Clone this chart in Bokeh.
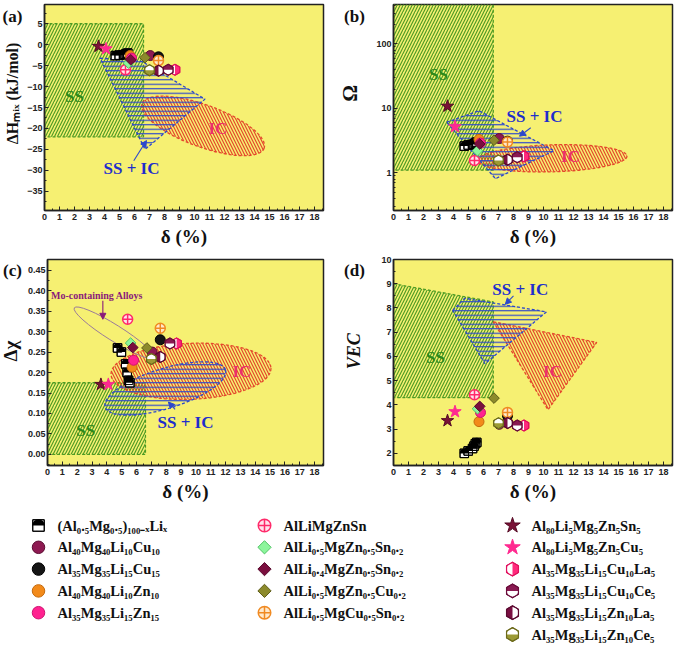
import numpy as np
from bokeh.plotting import figure
from bokeh.layouts import column, row
from bokeh.models import (Range1d, SingleIntervalTicker, PrintfTickFormatter, Label,
                          Arrow, NormalHead)
from bokeh.embed import file_html
from bokeh.resources import INLINE
from bokeh.core.properties import value

# ---------------- data ----------------
labels = [
    "(Al₀.₅Mg₀.₅)₁₀₀₋ₓLiₓ", "Al₄₀Mg₄₀Li₁₀Cu₁₀", "Al₃₅Mg₃₅Li₁₅Cu₁₅", "Al₄₀Mg₄₀Li₁₀Zn₁₀", "Al₃₅Mg₃₅Li₁₅Zn₁₅",
    "AlLiMgZnSn", "AlLi₀.₅MgZn₀.₅Sn₀.₂", "AlLi₀.₄MgZn₀.₅Sn₀.₂", "AlLi₀.₅MgZn₀.₅Cu₀.₂", "AlLi₀.₅MgCu₀.₅Sn₀.₂",
    "Al₈₀Li₅Mg₅Zn₅Sn₅", "Al₈₀Li₅Mg₅Zn₅Cu₅", "Al₃₅Mg₃₅Li₁₅Cu₁₀La₅", "Al₃₅Mg₃₅Li₁₅Cu₁₀Ce₅",
    "Al₃₅Mg₃₅Li₁₅Zn₁₀La₅", "Al₃₅Mg₃₅Li₁₅Zn₁₀Ce₅",
]
panel_tags = ["(a)", "(b)", "(c)", "(d)"]
y_titles = ["ΔHₘᵢₓ (kJ/mol)", "Ω", "Δχ", "VEC"]

# series 0: (Al0.5Mg0.5)100-xLix
sq_delta = [4.72, 4.98, 5.27, 5.37, 5.46, 5.55]
sq_dH = [-2.6, -2.5, -2.4, -2.3, -2.2, -2.0]
sq_omega = [2.6, 2.7, 2.75, 2.8, 2.9, 3.0]
sq_dchi = [0.260, 0.250, 0.221, 0.200, 0.181, 0.175]
sq_vec = [2.0, 2.1, 2.2, 2.3, 2.4, 2.45]

# series 1..15: one alloy each (same order as labels[1:])
pt_delta = [7.05, 7.6, 5.7, 5.8, 5.4, 5.6, 5.75, 6.7, 7.6, 3.6, 4.1, 8.7, 8.25, 7.6, 7.0]
pt_dH = [-2.6, -2.9, -2.6, -3.2, -6.0, -4.4, -3.6, -3.1, -3.8, -0.4, -1.0, -6.0, -6.0, -6.2, -6.1]
pt_omega = [3.4, 3.1, 3.3, 2.9, 1.55, 2.2, 2.8, 3.2, 3.0, 10.8, 5.2, 1.8, 1.75, 1.6, 1.55]
pt_dchi = [0.250, 0.280, 0.213, 0.230, 0.330, 0.272, 0.261, 0.260, 0.308, 0.171, 0.171, 0.271, 0.271, 0.238, 0.233]
pt_vec = [3.20, 3.55, 3.31, 3.69, 4.42, 3.84, 3.94, 4.28, 3.69, 3.35, 3.72, 3.15, 3.15, 3.25, 3.24]

# phase-region outlines (delta, value)
a_ss = (0, 6.6, -22, 5)
a_mix_x = [3.7, 6.5, 10.7, 6.7]
a_mix_y = [-3.2, -4.0, -13.0, -25.0]
a_ic = (10.57, -19.4)
b_ss = (0, 6.65, 1.1, 5000)
b_mix_x = [3.55, 5.7, 10.7, 6.8]
b_mix_y = [6.1, 9.2, 2.2, 0.81]
b_ic = (10.6, 1.68)
c_ss = (0, 6.6, 0.0, 0.175)
c_mix = (7.94, 0.161)
c_ic = (9.67, 0.203)
c_mo = (4.49, 0.297)
d_ss_x = [0, 6.65, 6.65, 0]
d_ss_y = [9.0, 8.25, 4.3, 4.3]
d_mix_x = [3.95, 4.75, 10.2, 6.1]
d_mix_y = [7.9, 8.4, 7.84, 5.7]
d_ic_x = [6.65, 13.55, 10.3]
d_ic_y = [7.43, 6.58, 3.8]

# ---------------- styles ----------------
BG = "#f6f072"
GREEN = "#4f9c24"
BLUE = "#2c48cc"
RED = "#e4482c"
T_GREEN = "#2f8a1a"
T_BLUE = "#1e2ecc"
T_RED = "#ec2f6b"
SERIF = "Liberation Serif"
SANS = "Liberation Sans"

styles = [
    ("circle", "#8e1a52", "#5c0c32", None),
    ("circle", "#151515", "#000000", None),
    ("circle", "#f28a1a", "#c56a0c", None),
    ("circle", "#ff2290", "#d01070", None),
    ("circle_cross", "#ffe3ec", "#ff2a6a", None),
    ("diamond", "#8cf59c", "#52c466", None),
    ("diamond", "#7a0f3e", "#5a0a2e", None),
    ("diamond", "#8c8a2c", "#5e5c18", None),
    ("circle_cross", "#ffe9cc", "#f08a22", None),
    ("star", "#7a1236", "#560a24", None),
    ("star", "#ff2a90", "#ff2a90", None),
    ("hex", "#ff2a7c", "#e0105e", "left"),
    ("hex", "#8a1a52", "#6a0c3a", "bottom"),
    ("hex", "#7a1042", "#5a0a30", "right"),
    ("hex", "#9c9a34", "#6c6a1c", "top"),
]
HALF = {"left": (np.pi / 2, 3 * np.pi / 2), "right": (-np.pi / 2, np.pi / 2),
        "top": (0, np.pi), "bottom": (np.pi, 2 * np.pi)}
BASE = {"circle": 10, "circle_cross": 10, "diamond": 7.5, "star": 13, "hex": 11}


def draw_squares(p, xs, ys, scale=1.0):
    s = 8.5 * scale
    p.scatter(xs, ys, marker="square", size=s, fill_color="white", line_color="black", line_width=1)
    p.wedge(xs, ys, radius=s * 0.55, radius_units="screen", start_angle=0, end_angle=np.pi,
            fill_color="black", line_color=None)
    p.scatter(xs, ys, marker="square", size=s, fill_color=None, line_color="black", line_width=1)


def draw_marker(p, xs, ys, st, scale=1.0):
    kind, fill, line, half = st
    s = BASE[kind] * scale
    if kind == "diamond":
        p.scatter(xs, ys, marker="square", angle=np.pi / 4, size=s, fill_color=fill,
                  line_color=line, line_width=1)
    elif kind == "hex":
        p.scatter(xs, ys, marker="hex", angle=np.pi / 6, size=s, fill_color=fill,
                  line_color=line, line_width=1)
        if half:
            a0, a1 = HALF[half]
            p.wedge(xs, ys, radius=s * 0.42, radius_units="screen", start_angle=a0, end_angle=a1,
                    fill_color="white", line_color=None)
            p.scatter(xs, ys, marker="hex", angle=np.pi / 6, size=s, fill_color=None,
                      line_color=line, line_width=1.2)
    elif kind == "circle_cross":
        p.scatter(xs, ys, marker="circle_cross", size=s, fill_color=fill, line_color=line,
                  line_width=1.5)
    else:
        p.scatter(xs, ys, marker=kind, size=s, fill_color=fill, line_color=line, line_width=1)


def draw_data(p, sq_y, pt_y):
    draw_squares(p, sq_delta, sq_y)
    for i, st in enumerate(styles):
        draw_marker(p, [pt_delta[i]], [pt_y[i]], st)


def make_panel(yr, width, height, bl, br, bt, bb, ylog=False, y_interval=None, yfmt=None):
    p = figure(width=width, height=height, x_range=Range1d(0, 18.6), y_range=Range1d(*yr),
               y_axis_type="log" if ylog else "linear", output_backend="svg",
               toolbar_location=None, min_border_left=bl, min_border_right=br,
               min_border_top=bt, min_border_bottom=bb)
    p.background_fill_color = BG
    p.border_fill_color = "white"
    p.outline_line_color = "#222"
    p.outline_line_width = 1.5
    p.xgrid.visible = False
    p.ygrid.visible = False
    p.xaxis.ticker = SingleIntervalTicker(interval=1, num_minor_ticks=2)
    if y_interval:
        p.yaxis.ticker = SingleIntervalTicker(interval=y_interval, num_minor_ticks=2)
    if yfmt:
        p.yaxis.formatter = PrintfTickFormatter(format=yfmt)
    for ax in (p.xaxis[0], p.yaxis[0]):
        ax.major_tick_in = 4
        ax.major_tick_out = 0
        ax.minor_tick_in = 2
        ax.minor_tick_out = 0
        ax.major_tick_line_color = "#222"
        ax.minor_tick_line_color = "#222"
        ax.axis_line_color = "#222"
        ax.axis_line_width = 1.5
        ax.major_label_text_font = SANS
        ax.major_label_text_font_style = "bold"
        ax.major_label_text_font_size = "9px"
        ax.major_label_text_color = "#222"
        ax.axis_label_text_font = SERIF
        ax.axis_label_text_color = "#111"
    p.xaxis.major_label_standoff = 3
    p.yaxis.major_label_standoff = 2
    p.xaxis.axis_label = "δ (%)"
    p.xaxis.axis_label_text_font_size = "19px"
    p.xaxis.axis_label_text_font_style = "bold"
    p.xaxis.axis_label_standoff = 3
    return p


def side_fig(width, height, tag, tag_xy, title, title_xy, title_size, title_style="bold"):
    """Narrow strip left of a panel holding the panel tag and the rotated y-axis title."""
    f = figure(width=width, height=height, x_range=Range1d(0, width), y_range=Range1d(height, 0),
               output_backend="svg", toolbar_location=None, x_axis_location=None,
               y_axis_location=None, min_border=0)
    f.outline_line_color = None
    f.grid.visible = False
    f.background_fill_color = "white"
    f.border_fill_color = "white"
    f.text(x=[tag_xy[0]], y=[tag_xy[1]], text=[tag], text_font=value(SERIF),
           text_font_style="bold", text_font_size="17px", text_color="#111",
           text_align="center", text_baseline="middle")
    f.text(x=[title_xy[0]], y=[title_xy[1]], text=[title], angle=np.pi / 2,
           text_font=value(SERIF), text_font_style=title_style, text_font_size=title_size,
           text_color="#111", text_align="center", text_baseline="middle")
    return f


def region_text(p, x, y, text, color, size="17px"):
    p.add_layout(Label(x=x, y=y, text=text, text_font=SERIF, text_font_style="bold",
                       text_font_size=size, text_color=color, text_align="center",
                       text_baseline="middle"))


def arrow(p, x0, y0, x1, y1, color=BLUE):
    p.add_layout(Arrow(end=NormalHead(size=6, fill_color=color, line_color=color),
                       x_start=x0, y_start=y0, x_end=x1, y_end=y1,
                       line_color=color, line_width=1.1))


HATCH = dict(fill_color=None, hatch_weight=1.2, line_width=1.3, line_dash="3 2")
H1, H2 = 249, 255          # row heights
FRAME_H = 207

# ---------------- panel (a) ----------------
pa = make_panel((-39.6, 9.6), 309, H1, 20, 10, 4, 38, y_interval=5)
pa.quad(left=a_ss[0], right=a_ss[1], bottom=a_ss[2], top=a_ss[3], hatch_pattern="/",
        hatch_color=GREEN, hatch_scale=6, line_color=GREEN, **HATCH)
pa.ellipse(x=[a_ic[0]], y=[a_ic[1]], width=130, height=42, width_units="screen",
           height_units="screen", angle=-0.35, hatch_pattern="\\", hatch_color=RED,
           hatch_scale=6, line_color=RED, **HATCH)
pa.patch(a_mix_x, a_mix_y, hatch_pattern="-", hatch_color=BLUE, hatch_scale=4.5,
         line_color=BLUE, **HATCH)
draw_data(pa, sq_dH, pt_dH)
region_text(pa, 2.0, -12.3, "SS", T_GREEN)
region_text(pa, 11.56, -20.1, "IC", T_RED)
region_text(pa, 5.8, -29.5, "SS + IC", T_BLUE)
arrow(pa, 5.95, -27.7, 6.8, -22.9)
sa = side_fig(24, H1, panel_tags[0], (12, 4 + 10), y_titles[0], (12, 4 + FRAME_H / 2), "16px")

# ---------------- panel (b) ----------------
pb = make_panel((0.26, 410), 309, H1, 26, 4, 4, 38, ylog=True, yfmt="%g")
pb.quad(left=b_ss[0], right=b_ss[1], bottom=b_ss[2], top=b_ss[3], hatch_pattern="/",
        hatch_color=GREEN, hatch_scale=6, line_color=GREEN, **HATCH)
pb.ellipse(x=[b_ic[0]], y=[b_ic[1]], width=149, height=27, width_units="screen",
           height_units="screen", angle=0.03, hatch_pattern="\\", hatch_color=RED,
           hatch_scale=6, line_color=RED, **HATCH)
pb.patch(b_mix_x, b_mix_y, hatch_pattern="-", hatch_color=BLUE, hatch_scale=4.5,
         line_color=BLUE, **HATCH)
draw_data(pb, sq_omega, pt_omega)
region_text(pb, 3.0, 33, "SS", T_GREEN)
region_text(pb, 11.8, 1.8, "IC", T_RED)
region_text(pb, 9.4, 7.5, "SS + IC", T_BLUE)
arrow(pb, 9.15, 5.0, 8.4, 3.7)
sb = side_fig(34, H1, panel_tags[1], (21, 4 + 10), y_titles[1], (16, 4 + FRAME_H / 2), "21px")

# ---------------- panel (c) ----------------
pc = make_panel((-0.027, 0.476), 309, H2, 20, 10, 10, 38, y_interval=0.05, yfmt="%.2f")
pc.quad(left=c_ss[0], right=c_ss[1], bottom=c_ss[2], top=c_ss[3], hatch_pattern="/",
        hatch_color=GREEN, hatch_scale=6, line_color=GREEN, **HATCH)
pc.ellipse(x=[c_ic[0]], y=[c_ic[1]], width=160, height=56, width_units="screen",
           height_units="screen", angle=0.04, hatch_pattern="\\", hatch_color=RED,
           hatch_scale=6, line_color=RED, **HATCH)
pc.ellipse(x=[c_mix[0]], y=[c_mix[1]], width=126, height=40, width_units="screen",
           height_units="screen", angle=0.30, hatch_pattern="-", hatch_color=BLUE,
           hatch_scale=4.5, line_color=BLUE, **HATCH)
pc.ellipse(x=[c_mo[0]], y=[c_mo[1]], width=94, height=16, width_units="screen",
           height_units="screen", angle=-0.56, fill_color=None, line_color="#9a7a9a",
           line_width=1)
draw_data(pc, sq_dchi, pt_dchi)
region_text(pc, 2.57, 0.058, "SS", T_GREEN)
region_text(pc, 13.1, 0.203, "IC", T_RED)
region_text(pc, 9.3, 0.078, "SS + IC", T_BLUE)
arrow(pc, 8.6, 0.110, 8.15, 0.128)
region_text(pc, 3.34, 0.388, "Mo-containing Alloys", "#8a1a7a", size="10px")
arrow(pc, 3.73, 0.375, 3.73, 0.330, color="#8a1a7a")
sc = side_fig(24, H2, panel_tags[2], (12, 10 + 3), y_titles[2], (10, 10 + FRAME_H / 2), "19px")

# ---------------- panel (d) ----------------
pd = make_panel((1.5, 10.0), 309, H2, 26, 4, 10, 38, y_interval=1)
pd.patch(d_ss_x, d_ss_y, hatch_pattern="/", hatch_color=GREEN, hatch_scale=6,
         line_color=GREEN, **HATCH)
pd.patch(d_ic_x, d_ic_y, hatch_pattern="\\", hatch_color=RED, hatch_scale=6,
         line_color=RED, **HATCH)
pd.patch(d_mix_x, d_mix_y, hatch_pattern="-", hatch_color=BLUE, hatch_scale=4.5,
         line_color=BLUE, **HATCH)
draw_data(pd, sq_vec, pt_vec)
region_text(pd, 2.8, 5.97, "SS", T_GREEN)
region_text(pd, 10.6, 5.38, "IC", T_RED)
region_text(pd, 8.45, 8.76, "SS + IC", T_BLUE)
arrow(pd, 8.0, 8.5, 7.45, 8.15)
sd = side_fig(34, H2, panel_tags[3], (21, 10 + 3), y_titles[3], (20, 10 + FRAME_H / 2), "18px",
              title_style="bold italic")

# ---------------- legend ----------------
LW, LH = 676, 143
pl = figure(width=LW, height=LH, x_range=Range1d(0, LW), y_range=Range1d(LH, 0),
            output_backend="svg", toolbar_location=None, x_axis_location=None,
            y_axis_location=None, min_border=0)
pl.outline_line_color = None
pl.grid.visible = False
pl.background_fill_color = "white"
col_x = [38, 264, 512]
col_rows = [5, 5, 6]
row_y0, row_dy = 21, 21.8
lx, ly = [], []
for c, n in enumerate(col_rows):
    for r in range(n):
        lx.append(col_x[c])
        ly.append(row_y0 + r * row_dy)
draw_squares(pl, [lx[0]], [ly[0]], scale=1.35)
for i, st in enumerate(styles):
    draw_marker(pl, [lx[i + 1]], [ly[i + 1]], st, scale=1.25)
pl.text(x=[v + 19 for v in lx], y=ly, text=labels, text_font=value(SERIF),
        text_font_style="bold", text_font_size="14.5px", text_baseline="middle",
        text_align="left", text_color="#111")

layout = column(row(sa, pa, sb, pb), row(sc, pc, sd, pd), pl)
open("out.html", "w").write(file_html(layout, INLINE))
